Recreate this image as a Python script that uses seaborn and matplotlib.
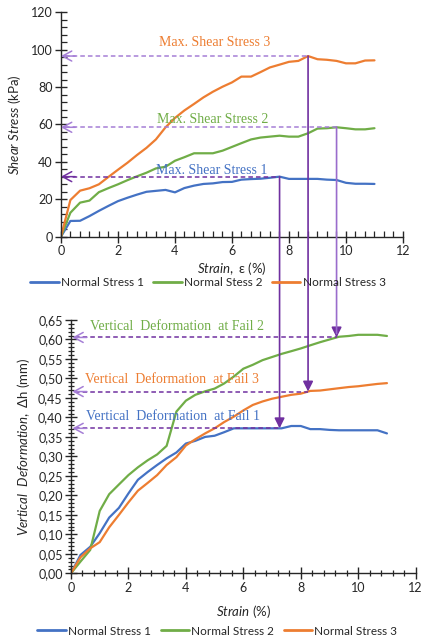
import numpy as np
import pandas as pd
import matplotlib
matplotlib.use("Agg")
import matplotlib.pyplot as plt
from matplotlib.patches import ConnectionPatch
from matplotlib.lines import Line2D
from matplotlib.ticker import MultipleLocator, FuncFormatter
import seaborn as sns

# ---- data -------------------------------------------------------------
strain = [0.00, 0.33, 0.67, 1.00, 1.33, 1.67, 2.00, 2.33, 2.67, 3.00, 3.33, 3.67,
          4.00, 4.33, 4.67, 5.00, 5.33, 5.67, 6.00, 6.33, 6.67, 7.00, 7.33, 7.67,
          8.00, 8.33, 8.67, 9.00, 9.33, 9.67, 10.00, 10.33, 10.67, 11.00]

shear_1 = [0, 8.4, 8.5, 11.0, 13.8, 16.5, 19.0, 20.8, 22.5, 24.0, 24.5, 25.0,
           23.7, 26.0, 27.3, 28.2, 28.5, 29.2, 29.3, 30.5, 30.8, 31.0, 31.5, 32.1,
           30.9, 30.9, 30.9, 30.9, 30.5, 30.3, 28.8, 28.3, 28.3, 28.2]
shear_2 = [0, 12.8, 18.2, 19.3, 23.8, 26.0, 28.0, 30.2, 32.3, 34.2, 36.5, 37.4,
           40.6, 42.5, 44.6, 44.6, 44.6, 46.0, 48.0, 50.0, 52.0, 53.0, 53.5, 54.0,
           53.5, 53.5, 55.3, 57.8, 58.0, 58.5, 58.0, 57.4, 57.4, 58.0]
shear_3 = [0, 19.6, 24.6, 25.9, 28.0, 32.0, 35.8, 39.5, 43.7, 47.5, 52.0, 58.5,
           63.5, 67.5, 71.0, 74.5, 77.5, 80.2, 82.5, 85.6, 85.6, 88.0, 90.5, 92.0,
           93.5, 94.0, 96.6, 94.9, 94.6, 94.0, 92.7, 92.7, 94.2, 94.3]

vdef_1 = [0, 0.047, 0.068, 0.103, 0.143, 0.168, 0.205, 0.240, 0.260, 0.278, 0.295, 0.310,
          0.333, 0.340, 0.350, 0.353, 0.362, 0.372, 0.372, 0.372, 0.372, 0.372, 0.372, 0.378,
          0.378, 0.370, 0.370, 0.368, 0.367, 0.367, 0.367, 0.367, 0.367, 0.359]
vdef_2 = [0, 0.030, 0.060, 0.160, 0.203, 0.228, 0.252, 0.272, 0.290, 0.305, 0.327, 0.415,
          0.443, 0.458, 0.467, 0.474, 0.487, 0.505, 0.525, 0.535, 0.547, 0.555, 0.563, 0.570,
          0.577, 0.585, 0.593, 0.600, 0.607, 0.609, 0.612, 0.612, 0.612, 0.609]
vdef_3 = [0, 0.041, 0.064, 0.080, 0.118, 0.150, 0.182, 0.212, 0.232, 0.252, 0.278, 0.298,
          0.328, 0.344, 0.359, 0.372, 0.388, 0.402, 0.418, 0.432, 0.441, 0.448, 0.453, 0.458,
          0.461, 0.468, 0.469, 0.472, 0.475, 0.478, 0.480, 0.483, 0.486, 0.488]

series = ["Normal Stress 1", "Normal Stress 2", "Normal Stress 3"]
legend_top = ["Normal Stress 1", "Normal Stess 2", "Normal Stress 3"]
legend_bottom = ["Normal Stress 1", "Normal Stress 2", "Normal Stress 3"]
shear_labels = ["Max. Shear Stress 1", "Max. Shear Stress 2", "Max. Shear Stress 3"]
fail_labels = ["Vertical  Deformation  at Fail 1", "Vertical  Deformation  at Fail 2",
               "Vertical  Deformation  at Fail 3"]
y_ticks_top = [0, 20, 40, 60, 80, 100, 120]
y_ticks_bottom = [0.00, 0.05, 0.10, 0.15, 0.20, 0.25, 0.30, 0.35, 0.40, 0.45, 0.50,
                  0.55, 0.60, 0.65]
x_ticks = [0, 2, 4, 6, 8, 10, 12]

# ---- style ------------------------------------------------------------
sns.set_theme(style="ticks")
plt.rcParams["font.family"] = ["Lato", "DejaVu Sans"]
plt.rcParams["mathtext.fontset"] = "custom"
plt.rcParams["mathtext.it"] = "Lato:italic"
plt.rcParams["mathtext.rm"] = "Lato"

colors = ["#4472C4", "#70AD47", "#ED7D31"]
palette = dict(zip(series, colors))
dark_purple = "#7030A0"
light_purple = "#A57ED6"
axis_col = "#262626"
serif = ["Liberation Serif", "DejaVu Serif"]

top_df = pd.DataFrame({
    "strain": strain * 3,
    "value": shear_1 + shear_2 + shear_3,
    "series": np.repeat(series, len(strain)),
})
bot_df = pd.DataFrame({
    "strain": strain * 3,
    "value": vdef_1 + vdef_2 + vdef_3,
    "series": np.repeat(series, len(strain)),
})

fig = plt.figure(figsize=(4.22, 6.40), dpi=100)
ax1 = fig.add_axes([0.1445, 0.6302, 0.8104, 0.3506])
ax2 = fig.add_axes([0.1682, 0.1042, 0.8168, 0.3958])

sns.lineplot(data=top_df, x="strain", y="value", hue="series", palette=palette,
             ax=ax1, linewidth=1.6, legend=False, sort=False)
sns.lineplot(data=bot_df, x="strain", y="value", hue="series", palette=palette,
             ax=ax2, linewidth=1.6, legend=False, sort=False)


def style_axis(ax, yticks, ymax, yminor, xminor, fmt):
    ax.set_xlim(0, 12)
    ax.set_ylim(0, ymax)
    ax.set_xticks(x_ticks)
    ax.set_yticks(yticks)
    ax.xaxis.set_minor_locator(MultipleLocator(xminor))
    ax.yaxis.set_minor_locator(MultipleLocator(yminor))
    ax.yaxis.set_major_formatter(FuncFormatter(fmt))
    for s in ("top", "right"):
        ax.spines[s].set_visible(False)
    for s in ("left", "bottom"):
        ax.spines[s].set_color(axis_col)
        ax.spines[s].set_linewidth(1.0)
    ax.tick_params(which="major", direction="inout", length=8, width=1.0,
                   color=axis_col, labelsize=9, labelcolor=axis_col, pad=2)
    ax.tick_params(which="minor", direction="in", length=4, width=0.9, color=axis_col)
    ax.set_xlabel("")
    ax.set_ylabel("")


style_axis(ax1, y_ticks_top, 120, 4, 1 / 3, lambda v, p: f"{v:.0f}")
style_axis(ax2, y_ticks_bottom, 0.65, 0.01, 0.4,
           lambda v, p: f"{v:.2f}".replace(".", ","))
ax2.tick_params(which="minor", direction="inout", length=5)

ax1.set_xlabel(r"$\mathit{Strain,}$ ε (%)", fontsize=9.5, color=axis_col, labelpad=2)
ax1.set_ylabel(r"$\mathit{Shear\ Stress}$ (kPa)", fontsize=9.5, color=axis_col, labelpad=6)
ax2.set_xlabel(r"$\mathit{Strain}$ (%)", fontsize=9.5, color=axis_col, labelpad=7)
ax2.set_ylabel(r"$\mathit{Vertical\ \ Deformation,}$ Δh (mm)", fontsize=9.5,
               color=axis_col, labelpad=4)

# ---- legends ----------------------------------------------------------
handles = [Line2D([], [], color=c, linewidth=2) for c in colors]
leg_kw = dict(ncol=3, frameon=False, fontsize=8.5, handlelength=2.4,
              handletextpad=0.2, columnspacing=0.8, borderpad=0)
fig.legend(handles, legend_top, loc="center", bbox_to_anchor=(0.493, 0.558), **leg_kw)
fig.legend(handles, legend_bottom, loc="center", bbox_to_anchor=(0.515, 0.014), **leg_kw)

# ---- annotations ------------------------------------------------------
shear_sets = [shear_1, shear_2, shear_3]
vdef_sets = [vdef_1, vdef_2, vdef_3]
top_dash_cols = [dark_purple, light_purple, light_purple]
drop_cols = [dark_purple, "#9A6CCC", dark_purple]
shear_text_pos = [(5.30, 35.3), (5.33, 62.4), (5.40, 103.6)]
fail_text_pos = [(3.56, 0.402), (3.68, 0.633), (3.51, 0.498)]

fig.canvas.draw()
for i in range(3):
    ys = shear_sets[i]
    k = int(np.argmax(ys))
    xp, yp = strain[k], ys[k]
    # peak level carried across to the y axis
    ax1.plot([0.15, xp], [yp, yp], ls=(0, (3, 2)), color=top_dash_cols[i], lw=1.1)
    ax1.annotate("", xy=(0, yp), xytext=(0.5, yp),
                 arrowprops=dict(arrowstyle="->,head_length=0.55,head_width=0.3",
                                 color=top_dash_cols[i], lw=1.1, shrinkA=0, shrinkB=0),
                 annotation_clip=False)
    ax1.text(*shear_text_pos[i], shear_labels[i], color=colors[i], fontsize=10,
             family=serif, ha="center", va="center")

    # drop from the peak to the same horizontal pixel position in the lower panel
    disp = ax1.transData.transform((xp, yp))
    xb = ax2.transData.inverted().transform(disp)[0]
    yb = float(np.interp(xb, strain, vdef_sets[i]))
    con = ConnectionPatch(xyA=(xp, yp), coordsA=ax1.transData,
                          xyB=(xb, yb + 0.01), coordsB=ax2.transData,
                          arrowstyle="-", color=drop_cols[i], lw=1.2,
                          shrinkA=0, shrinkB=0)
    fig.add_artist(con)
    ax2.annotate("", xy=(xb, yb), xytext=(xb, yb + 0.025),
                 arrowprops=dict(arrowstyle="-|>,head_length=0.5,head_width=0.25",
                                 color=dark_purple, lw=1.2, shrinkA=0, shrinkB=0))
    ax2.plot([0.15, xb], [yb, yb], ls=(0, (3, 2)), color=dark_purple, lw=1.1)
    ax2.annotate("", xy=(0.05, yb), xytext=(0.55, yb),
                 arrowprops=dict(arrowstyle="->,head_length=0.55,head_width=0.3",
                                 color=light_purple, lw=1.1, shrinkA=0, shrinkB=0),
                 annotation_clip=False)
    ax2.text(*fail_text_pos[i], fail_labels[i], color=colors[i], fontsize=10,
             family=serif, ha="center", va="center")

fig.savefig("out.png", dpi=100)
